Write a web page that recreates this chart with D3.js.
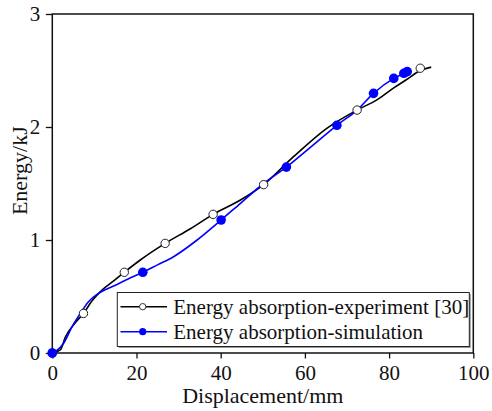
<!DOCTYPE html>
<html>
<head>
<meta charset="utf-8">
<script src="https://cdn.jsdelivr.net/npm/d3@7"></script>
<style>
  html, body { margin: 0; padding: 0; background: #fff; }
  svg { display: block; }
  svg text { font-family: "Liberation Serif", "Tinos", "Times New Roman", serif; fill: #111; }
</style>
</head>
<body>
<svg id="chart" width="492" height="411"></svg>
<script>
// ---- data ----
const expLineX = [0, 1.9, 3.1, 5.5, 7.4, 9.4, 11.8, 14.5, 17.1, 20.9, 26.8, 32.8, 38.2, 44.7, 50.2, 57.3, 65.2, 72.4, 77.1, 81.2, 84, 87.4, 90];
const expLineY = [0, 0.027, 0.14, 0.27, 0.35, 0.46, 0.557, 0.635, 0.714, 0.823, 0.97, 1.10, 1.227, 1.354, 1.49, 1.737, 1.988, 2.15, 2.24, 2.348, 2.416, 2.50, 2.53];
const expMarkX = [0, 7.4, 17.1, 26.8, 38.2, 50.2, 72.4, 87.4];
const expMarkY = [0, 0.35, 0.714, 0.97, 1.227, 1.49, 2.15, 2.52];

const simLineX = [0, 1, 2.7, 4.7, 6.65, 8.6, 11, 15, 18, 21.5, 25, 28.8, 34.4, 40.1, 44.7, 50.2, 55.6, 61.3, 67.6, 72.4, 76.3, 81.1, 83.5, 84.3];
const simLineY = [0, 0.02, 0.086, 0.233, 0.35, 0.454, 0.528, 0.60, 0.655, 0.714, 0.78, 0.852, 1.0, 1.177, 1.325, 1.50, 1.645, 1.82, 2.015, 2.15, 2.298, 2.43, 2.475, 2.49];
const simMarkX = [0, 21.5, 40.1, 55.6, 67.6, 76.3, 81.1, 83.5, 84.3];
const simMarkY = [0, 0.714, 1.177, 1.645, 2.015, 2.298, 2.43, 2.475, 2.49];

const xTicks = [0, 20, 40, 60, 80, 100];
const yTicks = [0, 1, 2, 3];
const seriesNames = ["Energy absorption-experiment [30]", "Energy absorption-simulation"];
const xTitle = "Displacement/mm";
const yTitle = "Energy/kJ";

// ---- layout ----
const FONT = "'Liberation Serif', 'Tinos', 'Times New Roman', serif";
const L = 52.3, R = 473.3, T = 14, B = 353;
const svg = d3.select("#chart");
const x = d3.scaleLinear().domain([0, 100]).range([L, R]);
const y = d3.scaleLinear().domain([0, 3]).range([B, T]);

// frame
svg.append("rect").attr("x", L).attr("y", T).attr("width", R - L).attr("height", B - T)
  .attr("fill", "none").attr("stroke", "#111").attr("stroke-width", 1.5);

// axes
const xAxis = svg.append("g").attr("transform", `translate(0,${B})`)
  .call(d3.axisBottom(x).tickValues(xTicks).tickSize(5.5).tickSizeOuter(0).tickPadding(7));
const yAxis = svg.append("g").attr("transform", `translate(${L},0)`)
  .call(d3.axisLeft(y).tickValues(yTicks).tickSize(6.5).tickSizeOuter(0).tickPadding(5.5).tickFormat(d3.format("d")));
[xAxis, yAxis].forEach(g => {
  g.attr("font-family", FONT).attr("font-size", 21);
  g.select(".domain").remove();
  g.selectAll(".tick line").attr("stroke", "#111").attr("stroke-width", 1.3);
  g.selectAll(".tick text").attr("font-family", FONT).attr("font-size", 21).attr("fill", "#111");
});
yAxis.selectAll(".tick text").attr("dy", "0.33em");

// titles
svg.append("text").attr("x", (L + R) / 2).attr("y", 402.5).attr("text-anchor", "middle")
  .attr("font-family", FONT).attr("font-size", 22).text(xTitle);
svg.append("text").attr("transform", "translate(27,170.7) rotate(-90)").attr("text-anchor", "middle")
  .attr("font-family", FONT).attr("font-size", 22).text(yTitle);

// lines
const line = d3.line().x(d => x(d[0])).y(d => y(d[1])).curve(d3.curveMonotoneX);
const expLine = expLineX.map((v, i) => [v, expLineY[i]]);
const simLine = simLineX.map((v, i) => [v, simLineY[i]]);
svg.append("path").datum(expLine).attr("d", line).attr("fill", "none").attr("stroke", "#000").attr("stroke-width", 1.6);
svg.append("path").datum(simLine).attr("d", line).attr("fill", "none").attr("stroke", "#0000ff").attr("stroke-width", 1.6);

// markers
svg.append("g").selectAll("circle").data(expMarkX.map((v, i) => [v, expMarkY[i]])).join("circle")
  .attr("cx", d => x(d[0])).attr("cy", d => y(d[1])).attr("r", 4.2)
  .attr("fill", "#fff").attr("stroke", "#222").attr("stroke-width", 1);
svg.append("g").selectAll("circle").data(simMarkX.map((v, i) => [v, simMarkY[i]])).join("circle")
  .attr("cx", d => x(d[0])).attr("cy", d => y(d[1])).attr("r", 4.8)
  .attr("fill", "#0000ff");

// legend
const lg = svg.append("g");
lg.append("rect").attr("x", 118.8).attr("y", 294).attr("width", 352).attr("height", 54).attr("fill", "#999");
lg.append("rect").attr("x", 117.3).attr("y", 292.5).attr("width", 352).attr("height", 54)
  .attr("fill", "#fff").attr("stroke", "#222").attr("stroke-width", 1);
const rows = [
  { y: 306.7, color: "#000", open: true },
  { y: 331.7, color: "#0000ff", open: false }
];
rows.forEach((r, i) => {
  lg.append("line").attr("x1", 120.5).attr("x2", 167).attr("y1", r.y).attr("y2", r.y)
    .attr("stroke", r.color).attr("stroke-width", 1.6);
  lg.append("circle").attr("cx", 142.7).attr("cy", r.y).attr("r", r.open ? 3.2 : 3.6)
    .attr("fill", r.open ? "#fff" : r.color).attr("stroke", r.open ? "#333" : "none").attr("stroke-width", 1);
  lg.append("text").attr("x", 173.3).attr("y", r.y + 7.3)
    .attr("font-family", FONT).attr("font-size", 21).text(seriesNames[i]);
});
</script>
</body>
</html>
